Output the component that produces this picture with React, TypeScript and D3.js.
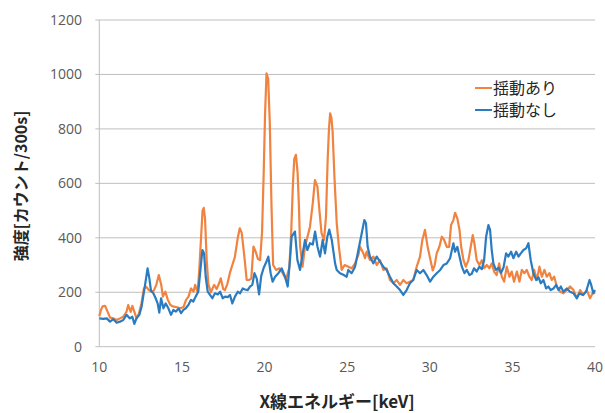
import React from "react";
import * as d3 from "d3";

// 揺動あり: energy (keV) and counts
const energyShaking = [
  10.0, 10.1, 10.2, 10.35, 10.5, 10.65, 10.85, 11.05, 11.25, 11.45, 11.65, 11.75, 11.9, 12.0,
  12.15, 12.25, 12.4, 12.55, 12.7, 12.85, 13.0, 13.15, 13.3, 13.45, 13.6, 13.75, 13.85, 14.0,
  14.15, 14.3, 14.5, 14.7, 14.9, 15.1, 15.25, 15.4, 15.55, 15.7, 15.8, 15.95, 16.05, 16.15,
  16.25, 16.32, 16.4, 16.5, 16.6, 16.75, 16.95, 17.1, 17.25, 17.35, 17.5, 17.6, 17.75, 17.9,
  18.05, 18.2, 18.38, 18.5, 18.62, 18.78, 18.92, 19.05, 19.2, 19.33, 19.47, 19.6, 19.73, 19.85,
  19.95, 20.03, 20.12, 20.22, 20.32, 20.42, 20.52, 20.7, 20.9, 21.1, 21.3, 21.5, 21.62, 21.72,
  21.8, 21.9, 22.0, 22.08, 22.15, 22.3, 22.45, 22.6, 22.75, 22.92, 23.05, 23.2, 23.32, 23.45,
  23.6, 23.72, 23.82, 23.9, 23.97, 24.05, 24.12, 24.23, 24.37, 24.5, 24.67, 24.85, 25.07, 25.27,
  25.48, 25.68, 25.78, 25.98, 26.08, 26.18, 26.38, 26.59, 26.79, 26.99, 27.19, 27.39, 27.59, 27.8,
  28.0, 28.2, 28.4, 28.6, 28.8, 29.0, 29.21, 29.41, 29.55, 29.71, 29.87, 30.02, 30.18, 30.3,
  30.42, 30.58, 30.73, 30.87, 31.03, 31.17, 31.29, 31.43, 31.53, 31.67, 31.8, 31.9, 32.04, 32.18,
  32.34, 32.48, 32.6, 32.7, 32.84, 33.0, 33.15, 33.29, 33.45, 33.61, 33.75, 33.89, 34.05, 34.2,
  34.36, 34.5, 34.66, 34.82, 34.96, 35.1, 35.27, 35.43, 35.57, 35.73, 35.87, 36.03, 36.17, 36.32,
  36.48, 36.64, 36.78, 36.94, 37.08, 37.24, 37.38, 37.53, 37.69, 37.89, 38.09, 38.29, 38.49, 38.7,
  38.9, 39.1, 39.3, 39.5, 39.7, 39.9, 40.0,
];
const countsShaking = [
  112, 135, 148, 150, 129, 107, 104, 98, 104, 110, 129, 153, 128, 150,
  123, 104, 122, 159, 214, 220, 208, 202, 206, 227, 263, 227, 184, 202,
  172, 153, 147, 145, 141, 146, 172, 184, 214, 202, 227, 200, 282, 392,
  500, 510, 470, 318, 230, 200, 227, 212, 233, 251, 212, 208, 230, 270,
  300, 328, 400, 435, 418, 331, 245, 245, 250, 368, 348, 322, 318, 420,
  640, 850, 1004, 985, 820, 520, 300, 282, 288, 270, 248, 290, 430, 600,
  690, 705, 640, 520, 370, 294, 368, 404, 441, 527, 612, 588, 502, 417,
  392, 478, 686, 800, 857, 840, 790, 625, 453, 368, 282, 300, 294, 288,
  306, 337, 367, 343, 325, 349, 318, 331, 300, 318, 282, 288, 245, 233,
  245, 227, 245, 233, 239, 245, 294, 331, 392, 429, 367, 325, 280, 300,
  343, 367, 404, 392, 367, 367, 447, 465, 492, 471, 429, 367, 318, 294,
  318, 367, 410, 380, 318, 300, 318, 288, 300, 288, 306, 276, 263, 306,
  257, 239, 294, 257, 276, 239, 276, 239, 282, 270, 282, 257, 245, 282,
  245, 294, 257, 282, 257, 270, 245, 257, 221, 202, 196, 208, 221, 208,
  178, 208, 190, 208, 178, 202, 195,
];

// 揺動なし
const energyNoShaking = [
  10.0, 10.25, 10.45, 10.65, 10.85, 11.05, 11.25, 11.45, 11.65, 11.85, 12.0, 12.12, 12.25, 12.42,
  12.56, 12.72, 12.83, 12.92, 13.02, 13.13, 13.27, 13.41, 13.53, 13.63, 13.74, 13.88, 14.02, 14.18,
  14.34, 14.48, 14.64, 14.8, 14.95, 15.09, 15.23, 15.39, 15.55, 15.69, 15.83, 15.99, 16.12, 16.24,
  16.34, 16.44, 16.56, 16.7, 16.84, 17.0, 17.17, 17.31, 17.47, 17.61, 17.77, 17.91, 18.05, 18.21,
  18.38, 18.52, 18.68, 18.82, 18.98, 19.12, 19.26, 19.39, 19.53, 19.67, 19.8, 19.95, 20.1, 20.23,
  20.37, 20.49, 20.64, 20.84, 21.04, 21.24, 21.4, 21.54, 21.64, 21.84, 21.99, 22.15, 22.31, 22.45,
  22.59, 22.75, 22.92, 23.06, 23.2, 23.36, 23.52, 23.66, 23.8, 23.92, 24.07, 24.27, 24.37, 24.57,
  24.77, 24.97, 25.07, 25.27, 25.48, 25.68, 25.88, 26.04, 26.14, 26.24, 26.38, 26.59, 26.79, 26.99,
  27.19, 27.39, 27.59, 27.8, 28.0, 28.2, 28.4, 28.6, 28.8, 29.0, 29.21, 29.41, 29.61, 29.81,
  30.02, 30.22, 30.42, 30.63, 30.83, 31.03, 31.23, 31.43, 31.53, 31.67, 31.8, 31.94, 32.1, 32.24,
  32.4, 32.54, 32.68, 32.84, 33.0, 33.15, 33.29, 33.41, 33.55, 33.65, 33.75, 33.85, 34.0, 34.16,
  34.3, 34.46, 34.62, 34.76, 34.92, 35.06, 35.23, 35.37, 35.51, 35.67, 35.83, 35.97, 36.11, 36.27,
  36.44, 36.58, 36.72, 36.88, 37.04, 37.18, 37.32, 37.49, 37.65, 37.79, 37.93, 38.09, 38.29, 38.49,
  38.7, 38.9, 39.06, 39.26, 39.46, 39.67, 39.77, 39.9, 40.0,
];
const countsNoShaking = [
  104, 102, 104, 92, 101, 88, 92, 98, 117, 104, 110, 84, 104, 117,
  147, 208, 251, 288, 255, 205, 196, 178, 159, 125, 178, 141, 159, 141,
  117, 135, 129, 140, 123, 135, 141, 153, 172, 166, 184, 202, 282, 355,
  343, 257, 202, 190, 178, 196, 192, 202, 178, 184, 182, 190, 159, 184,
  202, 196, 214, 210, 208, 221, 227, 270, 250, 192, 260, 290, 310, 331,
  270, 239, 257, 270, 288, 257, 221, 318, 404, 423, 318, 282, 343, 392,
  355, 380, 375, 423, 368, 331, 392, 343, 404, 430, 392, 306, 282, 270,
  264, 257, 282, 270, 294, 355, 416, 465, 453, 367, 331, 306, 331, 312,
  294, 282, 257, 233, 221, 208, 190, 208, 233, 245, 282, 270, 282, 263,
  239, 257, 270, 282, 300, 306, 325, 380, 349, 367, 331, 294, 270, 282,
  263, 268, 288, 276, 294, 285, 318, 404, 447, 429, 355, 306, 282, 290,
  270, 290, 343, 331, 349, 325, 349, 331, 343, 355, 361, 380, 318, 270,
  245, 255, 233, 245, 214, 221, 208, 214, 227, 208, 221, 202, 214, 202,
  196, 178, 196, 190, 202, 245, 227, 196, 208,
];

const xTicks = [10, 15, 20, 25, 30, 35, 40];
const yTicks = [0, 200, 400, 600, 800, 1000, 1200];

const seriesNames = ["揺動あり", "揺動なし"];
const seriesColors = ["#F0833F", "#2B7BC0"];

const W = 605;
const H = 413;
const left = 99.3;
const right = 595;
const top = 20;
const bottom = 346.7;

export default function App() {
  const x = d3.scaleLinear().domain([10, 40]).range([left, right]);
  const y = d3.scaleLinear().domain([0, 1200]).range([bottom, top]);

  const series = [
    { e: energyShaking, c: countsShaking },
    { e: energyNoShaking, c: countsNoShaking },
  ];

  const tickFont = "'Open Sans', 'Noto Sans', sans-serif";
  const jpFont = "'Noto Sans CJK JP', sans-serif";

  return (
    <svg
      width={W}
      height={H}
      style={{ position: "absolute", left: 0, top: 0, background: "#fff" }}
    >
      {/* grid */}
      {yTicks.map((t) => (
        <line
          key={t}
          x1={left - 4}
          x2={right}
          y1={y(t)}
          y2={y(t)}
          stroke="#bfbfbf"
          strokeWidth={1}
        />
      ))}
      <line x1={left} x2={left} y1={top} y2={bottom} stroke="#bfbfbf" strokeWidth={1} />

      {/* y ticks */}
      {yTicks.map((t) => (
        <text
          key={t}
          x={82}
          y={y(t)}
          dy="0.35em"
          textAnchor="end"
          fontSize={14}
          fontFamily={tickFont}
          fill="#595959"
        >
          {t}
        </text>
      ))}

      {/* x ticks */}
      {xTicks.map((t) => (
        <text
          key={t}
          x={x(t)}
          y={367}
          dy="0.35em"
          textAnchor="middle"
          fontSize={14}
          fontFamily={tickFont}
          fill="#595959"
        >
          {t}
        </text>
      ))}

      {/* series */}
      {series.map((s, i) => {
        const line = d3
          .line<number>()
          .x((d, j) => x(s.e[j]))
          .y((d) => y(d));
        return (
          <path
            key={i}
            d={line(s.c) || ""}
            fill="none"
            stroke={seriesColors[i]}
            strokeWidth={2.2}
            strokeLinejoin="round"
          />
        );
      })}

      {/* legend */}
      {seriesNames.map((name, i) => (
        <g key={name} transform={`translate(475, ${88 + i * 22})`}>
          <line x1={0} x2={17} y1={0} y2={0} stroke={seriesColors[i]} strokeWidth={2} />
          <text
            x={18}
            y={0}
            dy="0.35em"
            fontSize={16}
            fontFamily={jpFont}
            fill="#262626"
          >
            {name}
          </text>
        </g>
      ))}

      {/* axis titles */}
      <text
        x={337}
        y={402}
        dy="0.35em"
        textAnchor="middle"
        fontSize={17}
        fontWeight="bold"
        fontFamily={jpFont}
        fill="#262626"
      >
        X線エネルギー[keV]
      </text>
      <text
        transform={`translate(21, 186) rotate(-90)`}
        dy="0.35em"
        textAnchor="middle"
        fontSize={16}
        fontWeight="bold"
        fontFamily={jpFont}
        fill="#262626"
      >
        強度[カウント/300s]
      </text>
    </svg>
  );
}
